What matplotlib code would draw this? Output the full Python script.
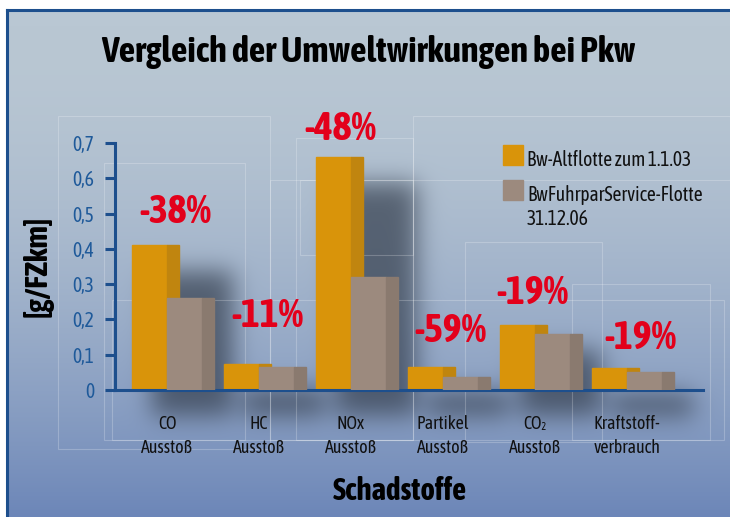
import numpy as np
import matplotlib
matplotlib.use("Agg")
import matplotlib.pyplot as plt
import matplotlib.font_manager as fm
from matplotlib.patches import Rectangle
from matplotlib.lines import Line2D

# data
categories = ["CO\nAusstoß", "HC\nAusstoß", "NOx\nAusstoß", "Partikel\nAusstoß",
              "CO₂\nAusstoß", "Kraftstoff-\nverbrauch"]
alt_flotte = [0.41, 0.075, 0.66, 0.066, 0.185, 0.062]
neu_flotte = [0.262, 0.066, 0.32, 0.036, 0.159, 0.051]
reduction = ["-38%", "-11%", "-48%", "-59%", "-19%", "-19%"]
series_names = ["Bw-Altflotte zum 1.1.03", "BwFuhrparService-Flotte\n31.12.06"]
yticks = [0, 0.1, 0.2, 0.3, 0.4, 0.5, 0.6, 0.7]
ytick_labels = ["0", "0,1", "0,2", "0,3", "0,4", "0,5", "0,6", "0,7"]

# layout / styles
W, H = 730, 517
bold_narrow = sorted({f.name for f in fm.fontManager.ttflist
                      if ("narrow" in f.name.lower() or "condensed" in f.name.lower())
                      and (f.weight in ("bold", "heavy", "black") or
                           (isinstance(f.weight, int) and f.weight >= 600))})
FONT = (bold_narrow[:1] or ["Roboto"]) + ["DejaVu Sans"]
plt.rcParams["font.family"] = FONT
ORANGE, ORANGE_SIDE = "#d9940a", "#c0850f"
GREY, GREY_SIDE = "#9c8a7e", "#8a7a6f"
BLUE = "#1d4f8d"
TICKBLUE = "#1f5a9a"
RED = "#e3001b"
label_dx = [0.09, 0.09, -0.12, 0.08, -0.03, 0.15]
label_dy = [0.095, 0.135, 0.08, 0.1, 0.09, 0.085]

fig = plt.figure(figsize=(W / 100, H / 100), dpi=100)
ax_bg = fig.add_axes([0, 0, 1, 1], zorder=0)
ax = fig.add_axes([115 / W, 1 - 390 / H, 588 / W, 247 / H], zorder=1)
ax.set_facecolor("none")

n = len(categories)
centers = np.arange(n) + 0.565
bw, depth = 0.38, 0.13
ax.set_xlim(0, 588 / 92)
ax.set_ylim(0, 0.7)

for c, a, b in zip(centers, alt_flotte, neu_flotte):
    ax.add_patch(Rectangle((c - bw, 0), bw, a, color=ORANGE, zorder=2))
    ax.add_patch(Rectangle((c, 0), depth, a, color=ORANGE_SIDE, zorder=2))
    ax.add_patch(Rectangle((c, 0), bw, b, color=GREY, zorder=3))
    ax.add_patch(Rectangle((c + bw, 0), depth, b, color=GREY_SIDE, zorder=3))

pct_texts = []
for c, a, txt, dx, dy in zip(centers, alt_flotte, reduction, label_dx, label_dy):
    pct_texts.append(ax.text(c + dx, a + dy, txt, color=RED, fontsize=21,
                             fontweight="bold", ha="center", va="center", zorder=5))

# axes styling
for s in ["top", "right"]:
    ax.spines[s].set_visible(False)
for s in ["left", "bottom"]:
    ax.spines[s].set_color(BLUE)
    ax.spines[s].set_linewidth(2.2)
ax.set_yticks(yticks)
ax.set_yticklabels(ytick_labels)
ax.tick_params(axis="y", colors=BLUE, length=7, width=2.2, pad=8, labelsize=12.5,
               labelcolor=TICKBLUE)
ax.set_xticks(centers)
ax.set_xticklabels(categories, fontsize=11.5, color="#111111", linespacing=1.45)
ax.tick_params(axis="x", length=0, pad=18)
ylab = ax.set_ylabel("[g/FZkm]", fontsize=16, fontweight="bold")
ax.yaxis.set_label_coords(-0.105, 0.5)

# title, x label
title = fig.text(368 / W, 1 - 52 / H, "Vergleich der Umweltwirkungen bei Pkw",
                 fontsize=22, fontweight="bold", ha="center", va="center")
xlab = fig.text(400 / W, 1 - 492 / H, "Schadstoffe", fontsize=19, fontweight="bold",
                ha="center", va="center")

# legend
leg_texts = []
for i, (name, col) in enumerate(zip(series_names, [ORANGE, GREY])):
    yl = 145 + 35 * i
    ax_bg.add_patch(Rectangle((503, yl), 20, 20, color=col, zorder=3))
    leg_texts.append(ax_bg.text(527, yl + 5, name, fontsize=13, va="top", ha="left",
                                linespacing=1.25, color="#111111", zorder=3))

ax_bg.set_xlim(0, W)
ax_bg.set_ylim(H, 0)

# scale text sizes so widths match the reference
fig.canvas.draw()
r = fig.canvas.get_renderer()


def fit(texts, ref, target, vertical=False, cap=1.4):
    e = ref.get_window_extent(r)
    size = e.height if vertical else e.width
    k = min(cap, target / size)
    for t in texts:
        t.set_fontsize(t.get_fontsize() * k)


fit([title], title, 533)
fit([xlab], xlab, 134)
fit(pct_texts, pct_texts[0], 72)
fit(leg_texts, leg_texts[0], 166)
fit([ylab], ylab, 102, vertical=True)
fit(ax.get_xticklabels(), ax.get_xticklabels()[5], 67)
yt = ax.get_yticklabels()
fit(yt, yt[-1], 22)
fig.canvas.draw()

# background gradient + bar shadows
yy = np.arange(H)[:, None] / H
t = np.clip((yy - 0.05) / 0.95, 0, 1) ** 1.8
top = np.array([185, 199, 211]) / 255
bot = np.array([108, 134, 184]) / 255
img = np.ones((H, W, 3)) * (top + (bot - top) * t[..., None])

mask = np.zeros((H, W))
for c, a, b in zip(centers, alt_flotte, neu_flotte):
    (x0, y0), (x1, y1) = ax.transData.transform([(c - bw, 0), (c + bw + depth, max(a, b))])
    r0, r1 = int(H - y1 + 26), int(H - y0 + 26)
    mask[max(r0, 0):min(r1, H), int(x0 + 20):int(x1 + 20)] = 1


def blur(a, s):
    rr = int(3 * s)
    k = np.exp(-0.5 * (np.arange(-rr, rr + 1) / s) ** 2)
    k /= k.sum()
    p = np.pad(a, ((rr, rr), (0, 0)), mode="edge")
    a = sum(k[i] * p[i:i + a.shape[0]] for i in range(2 * rr + 1))
    p = np.pad(a, ((0, 0), (rr, rr)), mode="edge")
    return sum(k[i] * p[:, i:i + a.shape[1]] for i in range(2 * rr + 1))


shadow = blur(mask, 12) * 0.7
dark = np.array([50, 60, 75]) / 255
img = img * (1 - shadow[..., None]) + dark * shadow[..., None]
img[:10, :] = 1
img[:, :7] = 1
ax_bg.imshow(img, extent=(0, W, H, 0), aspect="auto", interpolation="bilinear")
ax_bg.set_xlim(0, W)
ax_bg.set_ylim(H, 0)
ax_bg.axis("off")

# faint decorative frames
frames = [(58, 116, 212, 333), (104, 163, 141, 277), (270, 180, 143, 260),
          (296, 138, 117, 302), (413, 116, 317, 64), (465, 242, 137, 200),
          (572, 284, 138, 156), (112, 300, 612, 140), (300, 180, 113, 75)]
for fx, fy, fw, fh in frames:
    ax_bg.add_patch(Rectangle((fx, fy), fw, fh, fill=False, ec="white",
                              lw=0.8, alpha=0.22, zorder=2))

# border
ax_bg.add_line(Line2D([7, 7], [10, H], color=BLUE, lw=2.2, zorder=3))
ax_bg.add_line(Line2D([7, W], [10, 10], color=BLUE, lw=2.2, zorder=3))

fig.savefig("out.png", dpi=100)
